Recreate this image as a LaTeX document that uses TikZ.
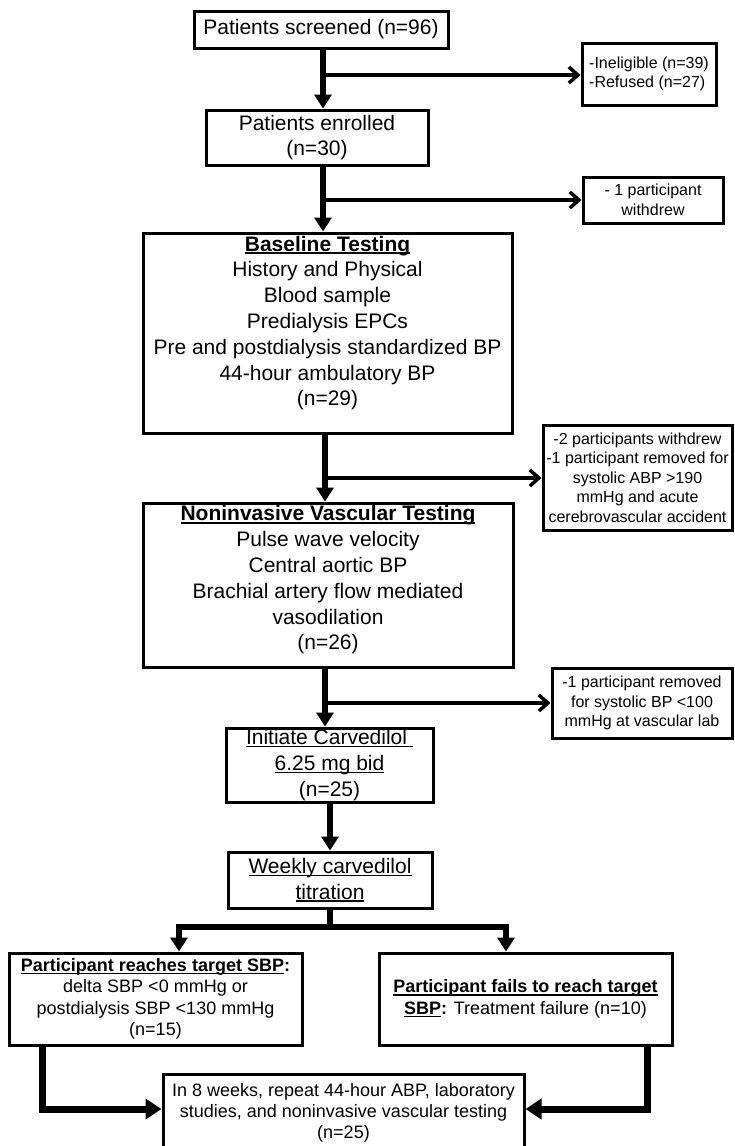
\documentclass[tikz,border=0pt]{standalone}
\usepackage{fontspec}
\setmainfont{Liberation Sans}
\usetikzlibrary{arrows.meta}
\newcommand{\myul}[1]{\setbox0\hbox{#1}\rlap{\rule[-2.6pt]{\wd0}{1.4pt}}\box0}
\tikzset{
  box/.style={draw, line width=3pt, rectangle, inner sep=0pt, align=center},
  bigf/.style={font=\fontsize{21}{25.8}\selectfont},
  medf/.style={font=\fontsize{18}{21.5}\selectfont},
  smlf/.style={font=\fontsize{16}{19.5}\selectfont},
  txt/.style={inner sep=0pt, align=center},
  mainarrow/.style={line width=6pt, -{Triangle[width=17pt,length=14pt]}},
  sidearrow/.style={line width=3.5pt, -{Straight Barb[width=16pt,length=9pt,line width=3.5pt]}},
  botarrow/.style={line width=7pt, -{Triangle[width=20pt,length=16pt]}},
}
\begin{document}
\begin{tikzpicture}[x=1pt,y=-1pt]
\useasboundingbox (0,0) rectangle (734,1146);
\clip (0,0) rectangle (734,1146);
% boxes
\node[box,bigf,minimum width=254,minimum height=37] (scr) at (321,29.5) {Patients screened (n=96)};
\node[box,bigf,minimum width=222,minimum height=55] (enr) at (317,137.5) {Patients enrolled\\(n=30)};
\node[box,smlf,minimum width=134,minimum height=62,align=left] (inel) at (649,74) {-Ineligible (n=39)\\-Refused (n=27)};
\node[box,smlf,minimum width=140,minimum height=46] (wd1) at (653,200) {- 1 participant\\withdrew};
\node[box,minimum width=369,minimum height=200] (base) at (327.5,333) {};
\node[txt,bigf] (baset) at (327.5,323) {\myul{\textbf{Baseline Testing}}\\History and Physical\\Blood sample\\Predialysis EPCs\\Pre and postdialysis standardized BP\\44-hour ambulatory BP\\(n=29)};
\node[box,smlf,minimum width=189,minimum height=105] (wd2) at (637.5,477.5) {-2 participants withdrew\\-1 participant removed for\\systolic ABP >190\\mmHg and acute\\cerebrovascular accident};
\node[box,minimum width=370,minimum height=164] (nonin) at (328,585) {};
\node[txt,bigf] (nonint) at (328,580) {\myul{\textbf{Noninvasive Vascular Testing}}\\Pulse wave velocity\\Central aortic BP\\Brachial artery flow mediated\\vasodilation\\(n=26)};
\node[box,smlf,minimum width=180,minimum height=70] (rm2) at (642,703) {-1 participant removed\\for systolic BP <100\\mmHg at vascular lab};
\node[box,bigf,minimum width=207,minimum height=74] (carv) at (329.5,765) {\myul{Initiate Carvedilol }\\\myul{6.25 mg bid}\\(n=25)};
\node[box,bigf,minimum width=204,minimum height=56] (weekly) at (330,880) {\myul{Weekly carvedilol}\\\myul{titration}};
\node[box,medf,minimum width=293,minimum height=92] (reach) at (155.5,999) {\textbf{\myul{Participant reaches target SBP}:}\\delta SBP <0 mmHg or\\postdialysis SBP <130 mmHg\\(n=15)};
\node[box,medf,minimum width=293,minimum height=92] (fail) at (525.5,999) {\textbf{\myul{Participant fails to reach target}}\\\textbf{\myul{SBP}:} Treatment failure (n=10)};
\node[box,font=\fontsize{18}{21}\selectfont,minimum width=361,minimum height=78] (final) at (343.5,1113) {In 8 weeks, repeat 44-hour ABP, laboratory\\studies, and noninvasive vascular testing\\(n=25)};
% branch points
\coordinate (c1) at (323,75);
\coordinate (c2) at (323,200);
\coordinate (c3) at (325,478);
\coordinate (c4) at (325,703);
\coordinate (sl) at (179,927);
\coordinate (sr) at (506,927);
\coordinate (bl) at (42,1109);
\coordinate (br) at (647,1109);
% main flow
\draw[mainarrow] (scr.south -| c1) -- (enr.north -| c1);
\draw[mainarrow] (enr.south -| c2) -- (base.north -| c2);
\draw[mainarrow] (base.south -| c3) -- (nonin.north -| c3);
\draw[mainarrow] (nonin.south -| c4) -- (carv.north -| c4);
\draw[mainarrow] (carv.south -| weekly.north) -- (weekly.north);
% side exits
\draw[sidearrow] (c1) -- (c1 -| inel.west);
\draw[sidearrow] (c2) -- (c2 -| wd1.west);
\draw[sidearrow] (c3) -- (c3 -| wd2.west);
\draw[sidearrow] (c4) -- (c4 -| rm2.west);
% split
\draw[mainarrow] (weekly.south) |- (sl) -- (sl |- reach.north);
\draw[mainarrow] (weekly.south) |- (sr) -- (sr |- fail.north);
% merge
\draw[botarrow] (reach.south -| bl) |- (final.west |- bl);
\draw[botarrow] (fail.south -| br) |- (final.east |- br);
\end{tikzpicture}
\end{document}
